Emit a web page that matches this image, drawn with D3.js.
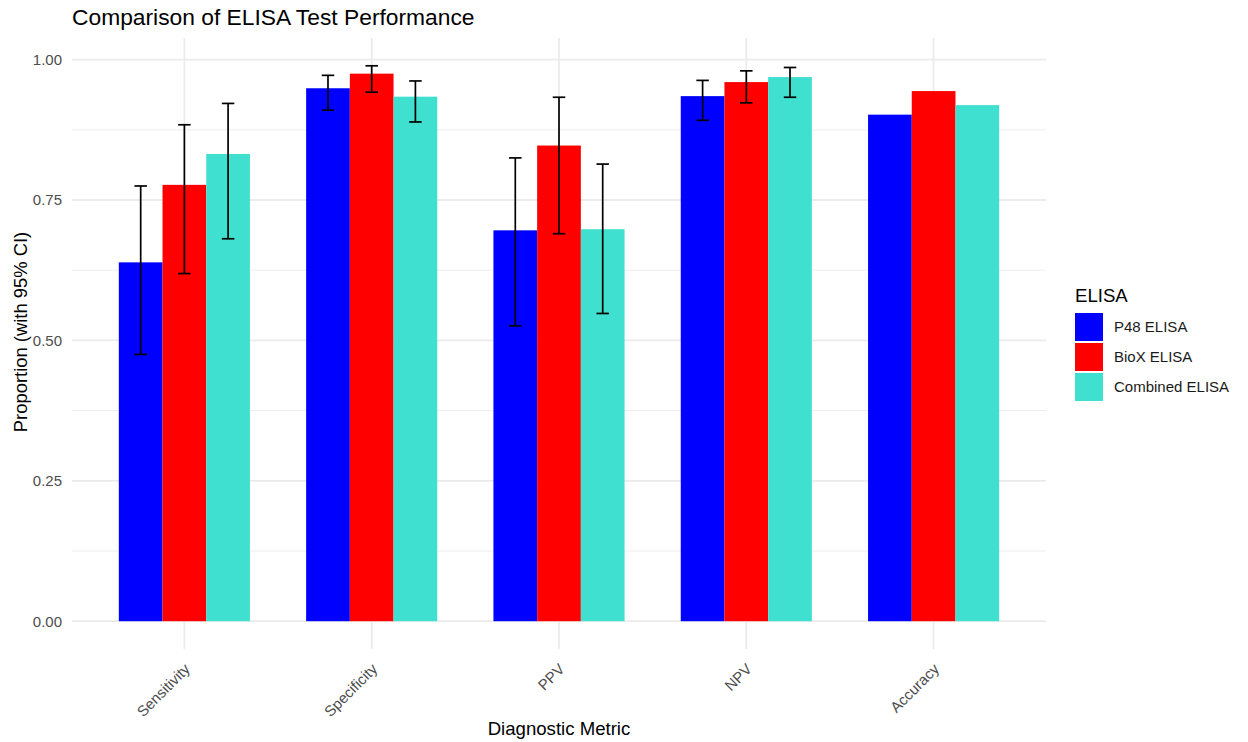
<!DOCTYPE html>
<html>
<head>
<meta charset="utf-8">
<script src="https://cdn.jsdelivr.net/npm/d3@7"></script>
<style>
  html, body { margin: 0; padding: 0; background: #fff; }
  svg { display: block; font-family: "Liberation Sans", Arial, sans-serif; }
</style>
</head>
<body>
<svg id="chart" width="1248" height="742"></svg>
<script>
const categories = ["Sensitivity", "Specificity", "PPV", "NPV", "Accuracy"];
const seriesNames = ["P48 ELISA", "BioX ELISA", "Combined ELISA"];
const seriesColors = ["#0000FF", "#FF0000", "#40E0D0"];

const p48Values      = [0.639, 0.949, 0.696, 0.935, 0.902];
const bioxValues     = [0.777, 0.975, 0.847, 0.960, 0.944];
const combinedValues = [0.832, 0.934, 0.698, 0.969, 0.919];

const p48Lower      = [0.475, 0.910, 0.526, 0.892, null];
const p48Upper      = [0.775, 0.972, 0.825, 0.963, null];
const bioxLower     = [0.619, 0.942, 0.690, 0.923, null];
const bioxUpper     = [0.884, 0.989, 0.933, 0.980, null];
const combinedLower = [0.681, 0.889, 0.548, 0.933, null];
const combinedUpper = [0.922, 0.962, 0.814, 0.986, null];

const yTicks = [0, 0.25, 0.5, 0.75, 1.0];
const yMinor = [0.125, 0.375, 0.625, 0.875];

const title = "Comparison of ELISA Test Performance";
const xTitle = "Diagnostic Metric";
const yTitle = "Proportion (with 95% CI)";
const legendTitle = "ELISA";

const values = [p48Values, bioxValues, combinedValues];
const lowers = [p48Lower, bioxLower, combinedLower];
const uppers = [p48Upper, bioxUpper, combinedUpper];

const rows = [];
categories.forEach((c, i) => {
  seriesNames.forEach((s, j) => {
    rows.push({cat: c, series: s, color: seriesColors[j], value: values[j][i], lo: lowers[j][i], hi: uppers[j][i]});
  });
});

const svg = d3.select("#chart");
svg.append("rect").attr("width", 1248).attr("height", 742).attr("fill", "#fff");

const panel = {left: 72, right: 1046, top: 38, bottom: 649};

const x = d3.scalePoint().domain(categories).range([panel.left, panel.right]).padding(0.6);
const step = x.step();
const dodge = d3.scaleBand().domain(seriesNames).range([-0.35 * step, 0.35 * step]);
const y = d3.scaleLinear().domain([-0.0495, 1.0385]).range([panel.bottom, panel.top]);

const grid = svg.append("g");
grid.selectAll("line.minor").data(yMinor).join("line")
  .attr("x1", panel.left).attr("x2", panel.right)
  .attr("y1", d => y(d)).attr("y2", d => y(d))
  .attr("stroke", "#EBEBEB").attr("stroke-width", 0.9);
grid.selectAll("line.major").data(yTicks).join("line")
  .attr("x1", panel.left).attr("x2", panel.right)
  .attr("y1", d => y(d)).attr("y2", d => y(d))
  .attr("stroke", "#EBEBEB").attr("stroke-width", 1.8);
grid.selectAll("line.vmajor").data(categories).join("line")
  .attr("x1", d => x(d)).attr("x2", d => x(d))
  .attr("y1", panel.top).attr("y2", panel.bottom)
  .attr("stroke", "#EBEBEB").attr("stroke-width", 1.8);

// bars
svg.append("g").selectAll("rect").data(rows).join("rect")
  .attr("x", d => x(d.cat) + dodge(d.series))
  .attr("width", dodge.bandwidth())
  .attr("y", d => y(d.value))
  .attr("height", d => y(0) - y(d.value))
  .attr("fill", d => d.color);

// error bars
const capW = step * 0.2 / 3;
const eb = svg.append("g").attr("stroke", "#000").attr("stroke-width", 1.7).attr("fill", "none");
const ebRows = rows.filter(d => d.lo != null && d.hi != null);
ebRows.forEach(d => {
  const cx = x(d.cat) + dodge(d.series) + dodge.bandwidth() / 2;
  eb.append("line").attr("x1", cx).attr("x2", cx).attr("y1", y(d.hi)).attr("y2", y(d.lo));
  eb.append("line").attr("x1", cx - capW / 2).attr("x2", cx + capW / 2).attr("y1", y(d.hi)).attr("y2", y(d.hi));
  eb.append("line").attr("x1", cx - capW / 2).attr("x2", cx + capW / 2).attr("y1", y(d.lo)).attr("y2", y(d.lo));
});

// y axis labels
const yAxis = d3.axisLeft(y).tickValues(yTicks).tickFormat(d3.format(".2f")).tickSize(0).tickPadding(10);
const gy = svg.append("g").attr("transform", `translate(${panel.left},0)`).call(yAxis);
gy.select(".domain").remove();
gy.selectAll("text").attr("font-size", 15).attr("fill", "#4D4D4D").attr("font-family", "Liberation Sans, Arial, sans-serif");

// x axis labels
const xAxis = d3.axisBottom(x).tickSize(0).tickPadding(0);
const gx = svg.append("g").attr("transform", `translate(0,${panel.bottom})`).call(xAxis);
gx.select(".domain").remove();
gx.selectAll("text")
  .attr("font-size", 15).attr("fill", "#4D4D4D").attr("font-family", "Liberation Sans, Arial, sans-serif")
  .attr("text-anchor", "end")
  .attr("dy", null).attr("y", null)
  .attr("transform", "translate(6,21) rotate(-45)");

// titles
svg.append("text").attr("x", panel.left).attr("y", 25).attr("font-size", 22.8).attr("fill", "#000").text(title);
svg.append("text").attr("x", (panel.left + panel.right) / 2).attr("y", 735).attr("text-anchor", "middle")
  .attr("font-size", 18.6).attr("fill", "#000").text(xTitle);
svg.append("text").attr("transform", `translate(27,332) rotate(-90)`)
  .attr("text-anchor", "middle").attr("font-size", 18.4).attr("fill", "#000").text(yTitle);

// legend
const lg = svg.append("g").attr("transform", "translate(1075,0)");
lg.append("text").attr("x", 0).attr("y", 302).attr("font-size", 18.6).attr("fill", "#000").text(legendTitle);
const items = lg.selectAll("g.item").data(seriesNames).join("g")
  .attr("transform", (d, i) => `translate(0,${313 + i * 30})`);
items.append("rect").attr("width", 28).attr("height", 28).attr("fill", (d, i) => seriesColors[i]);
items.append("text").attr("x", 39).attr("y", 14 + 5.4).attr("font-size", 15).attr("fill", "#1a1a1a").text(d => d);
</script>
</body>
</html>
